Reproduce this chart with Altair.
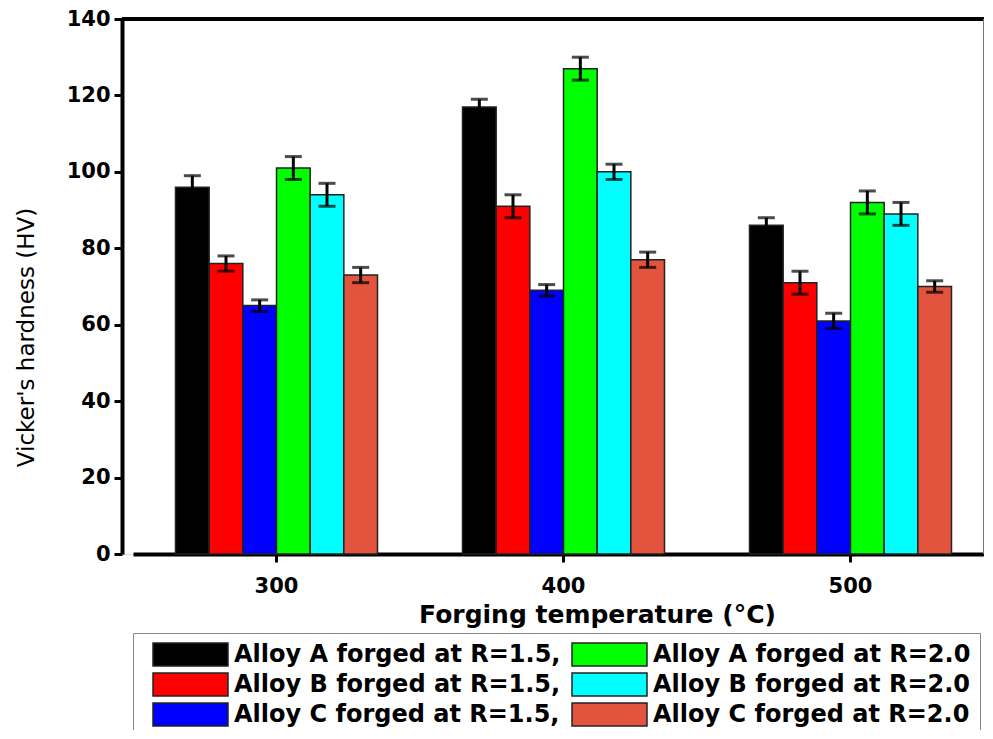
import altair as alt
import pandas as pd

temps = ["300", "400", "500"]
series = [
    "Alloy A forged at R=1.5",
    "Alloy B forged at R=1.5",
    "Alloy C forged at R=1.5",
    "Alloy A forged at R=2.0",
    "Alloy B forged at R=2.0",
    "Alloy C forged at R=2.0",
]
colors = ["#000000", "#ff0000", "#0000ff", "#00ff00", "#00ffff", "#e2543d"]

# hardness per series, for temps 300, 400, 500
hardness = {
    series[0]: [96, 117, 86],
    series[1]: [76, 91, 71],
    series[2]: [65, 69, 61],
    series[3]: [101, 127, 92],
    series[4]: [94, 100, 89],
    series[5]: [73, 77, 70],
}
errors = {
    series[0]: [3, 2, 2],
    series[1]: [2, 3, 3],
    series[2]: [1.5, 1.5, 2],
    series[3]: [3, 3, 3],
    series[4]: [3, 2, 3],
    series[5]: [2, 2, 1.5],
}

rows = []
for s in series:
    for i, t in enumerate(temps):
        v = hardness[s][i]
        e = errors[s][i]
        rows.append({"temp": t, "series": s, "hv": v, "lo": v - e, "hi": v + e})
df = pd.DataFrame(rows)

W = 862
H = 535
FONT = "DejaVu Sans"

x_scale = alt.Scale(range=[11, 872], paddingInner=0, paddingOuter=0)
xo_scale = alt.Scale(range=[42.5, 244.5], paddingInner=0, paddingOuter=0)

x_enc = alt.X(
    "temp:N",
    sort=temps,
    scale=x_scale,
    axis=alt.Axis(
        title="Forging temperature (°C)",
        labelAngle=0,
        labelFont=FONT,
        labelFontWeight="bold",
        labelFontSize=21,
        labelColor="black",
        labelPadding=13,
        tickSize=8,
        tickWidth=3,
        tickColor="black",
        domainWidth=4,
        domainColor="black",
        titleFont=FONT,
        titleFontWeight="bold",
        titleFontSize=25,
        titleColor="black",
        titleX=475,
        titleY=68,
        titleAlign="center",
        titleBaseline="alphabetic",
    ),
)
xo_enc = alt.XOffset("series:N", sort=series, scale=xo_scale)
y_scale = alt.Scale(domain=[0, 140], nice=False)

bars = alt.Chart(df).mark_bar(stroke="#222222", strokeWidth=1.5).encode(
    x=x_enc,
    xOffset=xo_enc,
    y=alt.Y(
        "hv:Q",
        scale=y_scale,
        axis=alt.Axis(
            title="Vicker's hardness (HV)",
            values=[0, 20, 40, 60, 80, 100, 120, 140],
            grid=False,
            labelFont=FONT,
            labelFontWeight="bold",
            labelFontSize=21,
            labelColor="black",
            labelPadding=4,
            tickSize=8,
            tickWidth=3,
            tickColor="black",
            domainWidth=4,
            domainColor="black",
            titleFont=FONT,
            titleFontWeight="normal",
            titleFontSize=23,
            titleColor="black",
            titleAngle=270,
            titleX=-96,
            titleY=318,
            titleAlign="center",
            titleBaseline="middle",
        ),
    ),
    color=alt.Color(
        "series:N",
        scale=alt.Scale(domain=series, range=colors),
        legend=alt.Legend(
            title=None,
            orient="none",
            direction="vertical",
            legendX=11,
            legendY=614,
            columns=2,
            symbolType="M-3.26,-1H3.26V1H-3.26Z",
            symbolSize=529,
            symbolStrokeColor="#222222",
            symbolStrokeWidth=1.5,
            symbolOpacity=1,
            symbolOffset=36,
            labelOffset=31,
            labelFont=FONT,
            labelFontWeight="bold",
            labelFontSize=24,
            labelColor="black",
            labelLimit=0,
            labelExpr="indexof(datum.label, '1.5') >= 0 ? datum.label + ',' : datum.label",
            columnPadding=-4,
            rowPadding=1,
            padding=9,
            strokeColor="#888888",
            fillColor="white",
        ),
    ),
)

err_rule = alt.Chart(df).mark_rule(color="black", strokeWidth=3).encode(
    x=alt.X("temp:N", sort=temps, scale=x_scale),
    xOffset=alt.XOffset("series:N", sort=series, scale=xo_scale),
    y=alt.Y("lo:Q", scale=y_scale),
    y2="hi:Q",
)
cap_lo = alt.Chart(df).mark_tick(color="black", thickness=3, size=17, orient="horizontal").encode(
    x=alt.X("temp:N", sort=temps, scale=x_scale),
    xOffset=alt.XOffset("series:N", sort=series, scale=xo_scale),
    y=alt.Y("lo:Q", scale=y_scale),
)
cap_hi = alt.Chart(df).mark_tick(color="black", thickness=3, size=17, orient="horizontal").encode(
    x=alt.X("temp:N", sort=temps, scale=x_scale),
    xOffset=alt.XOffset("series:N", sort=series, scale=xo_scale),
    y=alt.Y("hi:Q", scale=y_scale),
)

top_border = alt.Chart(df).mark_rule(color="black", strokeWidth=4).encode(
    y=alt.value(0), x=alt.value(0), x2=alt.value(W)
)
right_border = alt.Chart(df).mark_rule(color="#777777", strokeWidth=1.5).encode(
    x=alt.value(W), y=alt.value(0), y2=alt.value(H)
)

chart = (
    alt.layer(bars, err_rule, cap_lo, cap_hi, top_border, right_border)
    .properties(
        width=W,
        height=H,
        autosize=alt.AutoSizeParams(type="none"),
        padding={"left": 114, "top": 11, "right": 0, "bottom": 176},
    )
    .configure_view(stroke=None)
    .configure(background="white")
)

chart.save("out.html", embed_options={"renderer": "svg", "actions": False})
